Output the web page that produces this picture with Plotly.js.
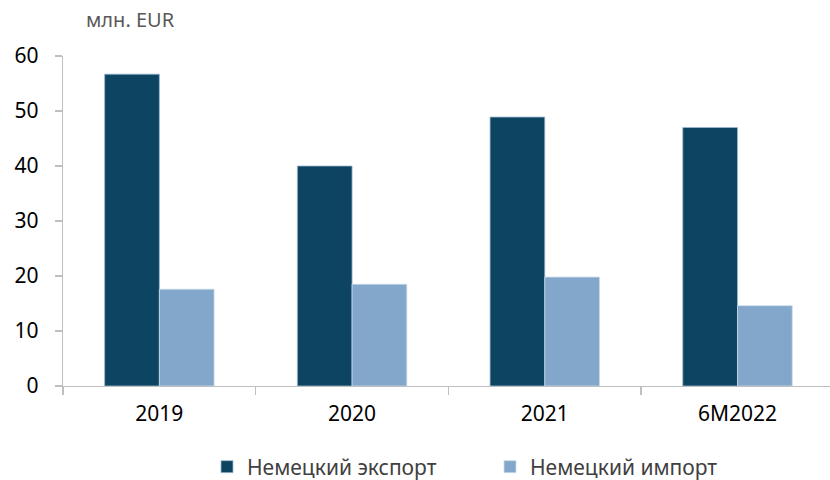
<!DOCTYPE html>
<html>
<head>
<meta charset="utf-8">
<script src="https://cdn.plot.ly/plotly-3.0.1.min.js"></script>
<style>html,body{margin:0;padding:0;background:#fff;}#chart{width:830px;height:480px;}</style>
</head>
<body>
<div id="chart"></div>
<script>
const categories = ["2019", "2020", "2021", "6M2022"];
const exportValues = [56.7, 40.0, 48.9, 47.0];
const importValues = [17.6, 18.5, 19.8, 14.6];
const seriesNames = ["Немецкий экспорт", "Немецкий импорт"];
const yTicks = [0, 10, 20, 30, 40, 50, 60];

const font = "'Noto Sans', 'Open Sans', sans-serif";

const traces = [
  {
    type: "bar", x: categories, y: exportValues, name: seriesNames[0],
    marker: {color: "#0D4462", line: {color: "#9DB8D2", width: 0.8}},
    hoverinfo: "x+y"
  },
  {
    type: "bar", x: categories, y: importValues, name: seriesNames[1],
    marker: {color: "#82A7CB", line: {color: "#C9DAEA", width: 0.8}},
    hoverinfo: "x+y"
  }
];

const layout = {
  width: 830, height: 480,
  margin: {l: 63, r: 0, t: 56, b: 94, autoexpand: false},
  paper_bgcolor: "#fff", plot_bgcolor: "#fff",
  barmode: "group", bargap: 0.432, bargroupgap: 0,
  font: {family: font, color: "#000"},
  xaxis: {
    type: "category",
    range: [-0.5, 3.48],
    showline: true, linecolor: "#BFBFBF", linewidth: 1.3,
    ticks: "outside", tickson: "boundaries", ticklen: 8, tickcolor: "#BFBFBF", tickwidth: 1.3,
    tickfont: {size: 21, color: "#000", family: font},
    ticklabelstandoff: 8,
    showgrid: false, zeroline: false, fixedrange: true
  },
  yaxis: {
    range: [0, 60],
    tickvals: yTicks,
    showline: true, linecolor: "#BFBFBF", linewidth: 1.3,
    ticks: "outside", ticklen: 7, tickcolor: "#BFBFBF", tickwidth: 1.3,
    tickfont: {size: 21, color: "#000", family: font},
    ticklabelstandoff: 12,
    showgrid: false, zeroline: false, fixedrange: true
  },
  showlegend: true,
  legend: {
    orientation: "h",
    xref: "container", yref: "container",
    x: 207 / 830, xanchor: "left",
    y: (480 - 467) / 480, yanchor: "middle",
    font: {size: 21, color: "#404040", family: font},
    traceorder: "normal",
    itemgap: 30,
    entrywidth: 238, entrywidthmode: "pixels"
  },
  annotations: [{
    text: "млн. EUR", xref: "paper", yref: "paper",
    x: (84 - 63) / 767, xanchor: "left",
    y: 1 + (56 - 20) / 330, yanchor: "middle",
    showarrow: false,
    font: {size: 20, color: "#595959", family: font}
  }]
};

Plotly.newPlot("chart", traces, layout, {displayModeBar: false, staticPlot: true});
</script>
</body>
</html>
